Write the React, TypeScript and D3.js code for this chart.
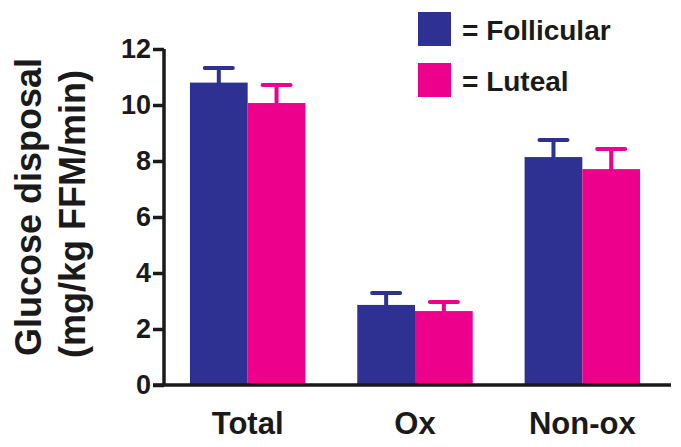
import React, { useEffect, useRef } from 'react';
import * as d3 from 'd3';

const categories = ['Total', 'Ox', 'Non-ox'];
const phases = ['Follicular', 'Luteal'];
const follicularMean = [10.8, 2.86, 8.14];
const follicularSem = [0.52, 0.43, 0.61];
const lutealMean = [10.07, 2.64, 7.71];
const lutealSem = [0.64, 0.32, 0.72];
const yTicks = [0, 2, 4, 6, 8, 10, 12];

export default function App() {
    const svgRef = useRef(null);

    const width = 681;
    const height = 447;
    const font = 'Liberation Sans, Arial, sans-serif';
    const colors = ['#2E3192', '#EC008C'];

    useEffect(() => {
        const svg = d3.select(svgRef.current);
        svg.selectAll('*').remove();

        const data = categories.map(function (c, i) {
            return {
                group: c,
                values: [
                    { key: phases[0], mean: follicularMean[i], sem: follicularSem[i] },
                    { key: phases[1], mean: lutealMean[i], sem: lutealSem[i] }
                ]
            };
        });

        const x = d3.scaleBand()
            .domain(categories)
            .range([164, 666])
            .paddingInner(0.31)
            .paddingOuter(0.155);

        const xSub = d3.scaleBand()
            .domain(phases)
            .range([0, x.bandwidth()]);

        const y = d3.scaleLinear()
            .domain([0, 12])
            .range([385, 49]);

        const color = d3.scaleOrdinal().domain(phases).range(colors);

        // bars + error bars (upper only)
        const groups = svg.append('g')
            .selectAll('g')
            .data(data)
            .enter()
            .append('g')
            .attr('transform', function (d) { return 'translate(' + x(d.group) + ',0)'; });

        groups.selectAll('rect.bar')
            .data(function (d) { return d.values; })
            .enter()
            .append('rect')
            .attr('class', 'bar')
            .attr('x', function (d) { return xSub(d.key); })
            .attr('y', function (d) { return y(d.mean); })
            .attr('width', xSub.bandwidth())
            .attr('height', function (d) { return y(0) - y(d.mean); })
            .attr('fill', function (d) { return color(d.key); });

        groups.selectAll('line.stem')
            .data(function (d) { return d.values; })
            .enter()
            .append('line')
            .attr('x1', function (d) { return xSub(d.key) + xSub.bandwidth() / 2; })
            .attr('x2', function (d) { return xSub(d.key) + xSub.bandwidth() / 2; })
            .attr('y1', function (d) { return y(d.mean) + 1; })
            .attr('y2', function (d) { return y(d.mean + d.sem); })
            .attr('stroke', function (d) { return color(d.key); })
            .attr('stroke-width', 4);

        groups.selectAll('line.cap')
            .data(function (d) { return d.values; })
            .enter()
            .append('line')
            .attr('x1', function (d) { return xSub(d.key) + xSub.bandwidth() / 2 - 14; })
            .attr('x2', function (d) { return xSub(d.key) + xSub.bandwidth() / 2 + 14; })
            .attr('y1', function (d) { return y(d.mean + d.sem); })
            .attr('y2', function (d) { return y(d.mean + d.sem); })
            .attr('stroke', function (d) { return color(d.key); })
            .attr('stroke-width', 4)
            .attr('stroke-linecap', 'round');

        // y axis
        const yAxisG = svg.append('g')
            .attr('transform', 'translate(164,0)')
            .call(d3.axisLeft(y).tickValues(yTicks).tickSize(11).tickPadding(2));
        yAxisG.select('.domain')
            .attr('d', 'M0,' + y(12) + 'V' + y(0))
            .attr('stroke', '#1a1a1a')
            .attr('stroke-width', 3.5);
        yAxisG.selectAll('.tick line')
            .attr('stroke', '#1a1a1a')
            .attr('stroke-width', 3.5);
        yAxisG.selectAll('.tick text')
            .attr('fill', '#1a1a1a')
            .style('font-family', font)
            .style('font-weight', 'bold')
            .style('font-size', '27px');

        // x axis line
        svg.append('line')
            .attr('x1', 153)
            .attr('x2', 671)
            .attr('y1', y(0))
            .attr('y2', y(0))
            .attr('stroke', '#1a1a1a')
            .attr('stroke-width', 3.5);

        svg.append('g')
            .selectAll('text')
            .data(categories)
            .enter()
            .append('text')
            .attr('x', function (d) { return x(d) + x.bandwidth() / 2; })
            .attr('y', 434)
            .attr('text-anchor', 'middle')
            .attr('fill', '#1a1a1a')
            .style('font-family', font)
            .style('font-weight', 'bold')
            .style('font-size', '31px')
            .text(function (d) { return d; });

        // y label
        svg.append('text')
            .attr('transform', 'rotate(-90)')
            .attr('x', -207)
            .attr('y', 41)
            .attr('text-anchor', 'middle')
            .attr('fill', '#1a1a1a')
            .style('font-family', font)
            .style('font-weight', 'bold')
            .style('font-size', '36px')
            .text('Glucose disposal');

        svg.append('text')
            .attr('transform', 'rotate(-90)')
            .attr('x', -214)
            .attr('y', 85)
            .attr('text-anchor', 'middle')
            .attr('fill', '#1a1a1a')
            .style('font-family', font)
            .style('font-weight', 'bold')
            .style('font-size', '36px')
            .text('(mg/kg FFM/min)');

        // legend
        const legend = svg.append('g')
            .selectAll('g')
            .data(phases)
            .enter()
            .append('g')
            .attr('transform', function (d, i) { return 'translate(418,' + (12 + i * 51) + ')'; });

        legend.append('rect')
            .attr('width', 33)
            .attr('height', 34)
            .attr('fill', function (d) { return color(d); });

        legend.append('text')
            .attr('x', 44)
            .attr('y', 28)
            .attr('fill', '#1a1a1a')
            .style('font-family', font)
            .style('font-weight', 'bold')
            .style('font-size', '28px')
            .text(function (d) { return '= ' + d; });
    }, []);

    return (
        <svg ref={svgRef} width={width} height={height}
            style={{ position: 'absolute', left: 0, top: 0, background: '#fff' }}></svg>
    );
}
